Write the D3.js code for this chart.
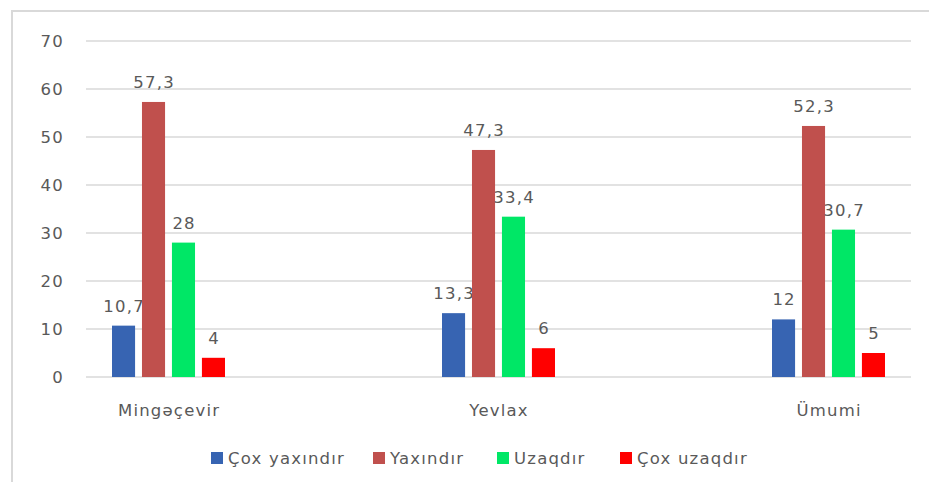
<!DOCTYPE html>
<html lang="az">
<head>
  <meta charset="UTF-8">
  <title>Bar chart</title>
  <script src="https://d3js.org/d3.v7.min.js"></script>
  <style>
    body { margin: 0; background: white; }
    svg text { font-family: "DejaVu Sans", sans-serif; fill: #595959; letter-spacing: 1.2px; }
  </style>
</head>
<body>
  <div id="chart"></div>
  <script>
    // chart data
    const categories = ["Mingəçevir", "Yevlax", "Ümumi"];
    const seriesNames = ["Çox yaxındır", "Yaxındır", "Uzaqdır", "Çox uzaqdır"];
    const seriesColors = ["#3764B2", "#C0504D", "#00E766", "#FF0000"];
    const coxYaxindir = [10.7, 13.3, 12];
    const yaxindir = [57.3, 47.3, 52.3];
    const uzaqdir = [28, 33.4, 30.7];
    const coxUzaqdir = [4, 6, 5];
    const yTicks = [0, 10, 20, 30, 40, 50, 60, 70];

    const seriesValues = [coxYaxindir, yaxindir, uzaqdir, coxUzaqdir];
    const width = 929, height = 482;

    const svg = d3.select("#chart").append("svg")
      .attr("width", width)
      .attr("height", height);

    // outer frame (only top and left are visible in the original)
    svg.append("path")
      .attr("d", "M12,482V11H929")
      .attr("fill", "none")
      .attr("stroke", "#D9D9D9")
      .attr("stroke-width", 2);

    const y = d3.scaleLinear().domain([0, 70]).range([377, 41]);
    const x = d3.scalePoint().domain(categories).range([168.5, 828.5]);
    const inner = d3.scaleBand().domain(seriesNames).range([-56.5, 56.5]).paddingInner(0.23);

    // gridlines
    svg.append("g").selectAll("line")
      .data(yTicks)
      .join("line")
      .attr("x1", 86).attr("x2", 911)
      .attr("y1", d => y(d)).attr("y2", d => y(d))
      .attr("stroke", "#D9D9D9")
      .attr("stroke-width", 1.3);

    // y axis labels
    svg.append("g").selectAll("text")
      .data(yTicks)
      .join("text")
      .attr("x", 64)
      .attr("y", d => y(d))
      .attr("dy", "0.35em")
      .attr("text-anchor", "end")
      .attr("font-size", 16.5)
      .text(d => d);

    // bars + labels
    seriesNames.forEach((name, si) => {
      const g = svg.append("g");
      g.selectAll("rect")
        .data(seriesValues[si])
        .join("rect")
        .attr("x", (d, i) => x(categories[i]) + inner(name))
        .attr("y", d => y(d))
        .attr("width", inner.bandwidth())
        .attr("height", d => y(0) - y(d))
        .attr("fill", seriesColors[si]);

      g.selectAll("text")
        .data(seriesValues[si])
        .join("text")
        .attr("x", (d, i) => x(categories[i]) + inner(name) + inner.bandwidth() / 2 + 0.6)
        .attr("y", d => y(d) - 14)
        .attr("text-anchor", "middle")
        .attr("font-size", 16.5)
        .text(d => String(d).replace(".", ","));
    });

    // category labels
    svg.append("g").selectAll("text")
      .data(categories)
      .join("text")
      .attr("x", d => x(d) + 0.6)
      .attr("y", 416)
      .attr("text-anchor", "middle")
      .attr("font-size", 16.5)
      .text(d => d);

    // legend
    const legendX = [211, 373, 497, 620];
    const legend = svg.append("g").selectAll("g")
      .data(seriesNames)
      .join("g")
      .attr("transform", (d, i) => `translate(${legendX[i]},452)`);
    legend.append("rect")
      .attr("width", 12).attr("height", 12)
      .attr("fill", (d, i) => seriesColors[i]);
    legend.append("text")
      .attr("x", 17)
      .attr("y", 12)
      .attr("font-size", 16.5)
      .text(d => d);
  </script>
</body>
</html>
